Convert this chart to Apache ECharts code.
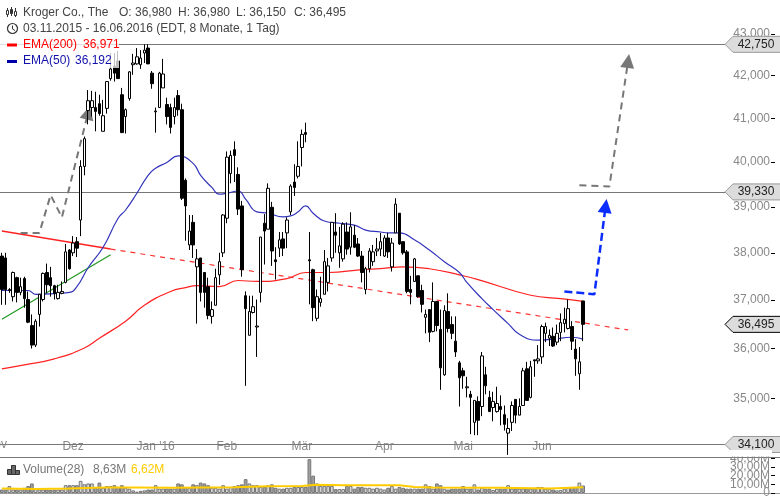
<!DOCTYPE html>
<html>
<head>
<meta charset="utf-8">
<title>Kroger Co., The</title>
<script src="https://cdn.jsdelivr.net/npm/echarts@6/dist/echarts.min.js"></script>
<style>
html, body { margin: 0; padding: 0; background: #fff; }
#chart { width: 780px; height: 499px; }
</style>
</head>
<body>
<div id="chart"></div>
<script>
// trading days per month, Nov 2015 - Jun 2016
const tradingDays = [
    ['11.2015', [3,4,5,6,9,10,11,12,13,16,17,18,19,20,23,24,25,27,30]],
    ['12.2015', [1,2,3,4,7,8,9,10,11,14,15,16,17,18,21,22,23,24,28,29,30,31]],
    ['01.2016', [4,5,6,7,8,11,12,13,14,15,19,20,21,22,25,26,27,28,29]],
    ['02.2016', [1,2,3,4,5,8,9,10,11,12,16,17,18,19,22,23,24,25,26,29]],
    ['03.2016', [1,2,3,4,7,8,9,10,11,14,15,16,17,18,21,22,23,24,28,29,30,31]],
    ['04.2016', [1,4,5,6,7,8,11,12,13,14,15,18,19,20,21,22,25,26,27,28,29]],
    ['05.2016', [2,3,4,5,6,9,10,11,12,13,16,17,18,19,20,23,24,25,26,27,31]],
    ['06.2016', [1,2,3,6,7,8,9,10,13,14,15,16]]
];
const monthTicks = [19, 41, 60, 80, 102, 123, 144];
const monthLabels = ['Dez', "Jan '16", 'Feb', 'Mär', 'Apr', 'Mai', 'Jun'];

const opens = [
    37.93,37.89,37.20,37.07,37.47,37.16,37.45,37.01,36.47,36.07,
    36.70,37.01,37.58,37.47,37.30,37.03,37.14,37.37,38.06,38.00,
    38.24,38.71,39.90,41.18,41.25,41.25,41.34,40.70,41.23,41.93,
    42.23,42.35,41.55,41.04,41.46,42.26,42.28,42.26,42.54,42.66,
    42.06,41.15,41.25,41.71,41.32,41.25,41.04,41.53,41.20,39.59,
    38.17,38.66,37.70,37.89,37.58,37.28,36.66,36.89,37.53,38.00,
    38.75,39.74,40.28,39.72,39.02,37.09,36.27,36.74,36.44,37.16,
    38.64,38.51,38.99,37.85,38.10,38.30,38.43,38.89,39.55,39.68,
    40.33,40.67,37.85,37.64,36.62,36.95,37.12,37.37,37.89,38.45,
    38.00,37.87,38.45,38.12,38.38,38.19,37.93,37.22,37.66,37.81,
    38.04,38.08,37.93,38.32,37.70,38.43,38.86,38.24,38.02,37.22,
    37.39,37.51,37.20,36.64,36.80,36.35,36.97,36.39,35.47,36.76,
    36.49,36.15,35.71,35.55,35.21,35.08,34.53,34.94,34.84,35.47,
    35.02,34.82,34.74,34.84,34.68,34.32,34.53,34.98,34.67,34.86,
    35.59,35.02,35.77,35.75,35.83,36.31,36.21,36.25,36.13,36.33,
    36.51,36.41,36.45,35.99,35.49,36.98
];
const closes = [
    37.22,37.22,37.22,37.58,37.16,37.28,37.03,36.54,36.07,36.56,
    37.12,37.56,37.32,37.30,37.14,37.16,37.18,38.02,37.66,38.21,
    38.10,39.90,40.53,41.41,41.41,41.16,41.11,41.06,41.86,42.16,
    42.06,41.93,40.67,41.20,42.09,42.30,42.45,42.42,42.61,42.28,
    41.81,41.17,42.06,42.04,41.04,40.79,41.25,41.20,39.19,39.02,
    38.47,38.17,37.87,37.16,37.16,36.68,36.80,37.47,37.81,38.82,
    40.11,40.15,40.15,38.95,37.64,36.82,36.76,36.86,36.46,38.34,
    38.47,39.41,38.04,37.81,38.28,38.10,38.71,39.46,39.43,39.90,
    40.63,40.63,37.83,36.84,37.07,37.03,37.81,37.72,38.66,38.38,
    38.15,38.62,38.08,38.56,38.12,37.93,37.58,37.66,38.04,38.02,
    38.08,38.24,38.32,38.02,38.21,39.06,38.19,38.00,37.18,37.16,
    37.87,37.07,36.91,36.70,36.33,36.97,36.47,35.61,36.78,36.41,
    36.31,35.93,35.41,35.45,35.23,35.02,34.96,34.57,35.85,35.25,
    34.74,34.94,34.90,34.78,34.49,34.41,34.86,34.67,34.84,35.55,
    34.96,35.63,35.75,35.79,36.45,36.45,36.27,36.05,36.31,36.53,
    36.60,36.82,36.15,35.79,35.73,36.495
];
const highs = [
    38.00,38.00,37.25,37.60,37.49,37.47,37.49,37.18,36.70,36.60,
    37.12,37.58,37.77,37.70,37.32,37.32,37.39,38.19,38.08,38.36,
    38.34,40.04,40.58,41.66,41.64,41.62,41.55,41.43,41.86,42.54,
    42.54,42.59,41.71,41.23,42.11,42.52,42.66,42.61,42.75,42.75,
    42.11,41.25,42.09,42.40,41.48,41.34,41.48,41.66,41.34,39.63,
    38.82,38.82,38.08,37.89,37.58,37.47,36.97,37.66,38.00,38.84,
    40.24,40.26,40.47,39.88,39.13,37.18,37.09,37.09,37.01,38.34,
    38.84,39.52,39.11,38.12,38.45,38.45,38.77,39.50,39.95,40.47,
    40.74,40.90,38.45,37.66,37.22,37.49,38.06,37.89,38.66,38.86,
    38.56,38.66,38.66,38.88,38.60,38.32,38.04,37.70,38.10,38.17,
    38.32,38.43,38.38,38.43,38.32,39.19,38.86,38.24,38.06,37.51,
    37.89,37.51,37.32,36.80,36.80,37.37,36.97,36.80,36.89,37.14,
    36.66,36.66,35.75,35.61,35.43,35.15,34.96,35.04,35.93,35.63,
    35.15,35.13,35.23,35.06,34.86,34.61,34.94,34.98,35.00,35.61,
    35.73,35.75,35.77,36.07,36.49,36.53,36.39,36.43,36.49,36.72,
    36.84,37.01,36.56,36.19,36.03,36.98
];
const lows = [
    36.90,36.90,37.15,36.97,36.95,37.10,36.84,36.52,36.00,36.03,
    36.45,36.97,37.14,37.07,37.01,37.01,37.12,37.35,37.64,37.93,
    37.91,38.36,39.70,40.86,41.04,40.70,41.06,40.70,41.11,41.88,
    41.86,41.93,40.67,40.65,41.41,42.02,42.26,42.16,42.30,42.28,
    41.69,40.67,41.25,41.71,40.86,40.65,40.86,41.06,39.15,38.26,
    38.06,37.89,36.51,36.97,36.84,36.60,36.51,36.89,37.32,37.91,
    38.64,39.52,39.55,38.82,37.49,35.25,36.27,36.72,35.83,36.95,
    37.75,38.51,37.72,37.43,37.91,37.93,38.10,38.82,39.24,39.63,
    39.90,40.45,36.91,36.56,36.56,36.86,37.12,37.18,37.81,38.00,
    37.68,37.81,37.96,37.96,38.10,37.91,37.37,37.12,37.58,37.72,
    37.93,37.93,37.91,37.89,37.60,38.43,38.17,37.96,37.14,36.91,
    37.39,37.05,36.74,36.31,36.13,36.33,36.35,35.17,35.45,36.33,
    36.19,35.83,34.84,35.19,35.02,34.30,34.28,34.28,34.65,35.08,
    34.74,34.55,34.72,34.47,34.37,33.90,34.36,34.51,34.67,34.86,
    34.96,35.00,35.43,35.69,35.69,36.13,36.05,36.03,36.07,36.15,
    36.33,36.39,35.97,35.45,35.17,36.15
];
const volumes = [
    4,4,8,4,4,4,6,8,11,5,
    4,4,4,3.5,4,4,4,9,9,9,
    9,14,10,11,11,6,12,6,8,8,
    9,7,9,6,5,3,1.5,2.5,3,4,
    4,9,5,5,5,5,5,11,10,6,
    6,10,9,12,11,9,6,6,5,9,
    5,7,8,9,10,16,11,9,9,7,
    7,9,10,6,5,5,6,6,7,7,
    7,7,39,20,11,8,8,8,8,4.5,
    4.5,4.5,8,8,5,7,7,6,6,5,
    6,5,4,6,8,5,7,6,5,5,
    5,5,5,10,8,5,11,9,5,4,
    5,5,5,8,5,5,10,4,6,5,
    5,3.5,5,5,5,9,5,5,5,5,
    5,5,6,7,7,5,5,4,3,3.5,
    5,6,7,7,12,8.63
];

// lines, read as [candle index, value]
const ema50 = [[0,37.20],[7,37.20],[9,37.12],[15,37.14],[18,37.16],[20,37.28],[23,37.68],[27,38.12],[31,38.75],[33,38.93],
    [36,39.30],[39,39.70],[41,39.86],[44,39.99],[47,40.14],[51,39.97],[53,39.70],[56,39.43],[58,39.28],[60,39.30],
    [63,39.35],[65,39.17],[68,38.89],[71,38.86],[75,38.78],[77,38.80],[79,38.89],[81,39.02],[83,38.86],[86,38.69],
    [90,38.64],[94,38.60],[97,38.49],[101,38.45],[103,38.43],[106,38.43],[110,38.28],[114,38.06],[118,37.81],[122,37.58],
    [124,37.37],[128,37.03],[131,36.80],[135,36.51],[138,36.29],[143,36.17],[147,36.19],[152,36.23],[155,36.192]];
const ema200 = [[0,35.59],[6,35.67],[14,35.79],[22,36.01],[26,36.21],[33,36.56],[38,36.89],[45,37.18],[49,37.26],[52,37.30],
    [58,37.28],[63,37.41],[68,37.39],[76,37.45],[81,37.58],[87,37.58],[96,37.64],[101,37.66],[107,37.70],[114,37.66],
    [122,37.53],[127,37.43],[141,37.10],[149,37.03],[155,36.971]];
const volumeAvg = [[0,5.3],[9,4.6],[18,5.3],[27,6.3],[36,6.3],[45,6],[62,6.7],[71,7.8],[80,8],[84,9.5],
    [91,9],[106,8.8],[110,7],[115,6.3],[133,6],[146,5.3],[155,6.62]];

const redTrendSolid = [[0,38.47],[29,38.08]];
const redTrendDashed = [[29,38.08],[167,36.38]];
const greenTrend = [[0,36.60],[29,37.96]];
const grayArrowLeft = [[5,38.43],[10,38.43],[13,39.26],[16,38.77],[23,41.13]];
const grayArrowRight = [[154,39.48],[162,39.45],[167,42.35]];
const blueArrow = [[150,37.18],[158,37.12],[161,39.02]];

const levels = [42.75, 39.33, 34.10];
const lastPrice = 36.495;
const priceTicks = [35, 36, 37, 38, 39, 40, 41, 42, 43];
const volumeTicksEven = [0, 20, 40];
const volumeTicksOdd = [10, 30];

const categories = [];
tradingDays.forEach(function (m) {
    m[1].forEach(function (d) { categories.push(d + '.' + m[0]); });
});
const barCount = 208;
while (categories.length < barCount) categories.push('');

const candleData = opens.map(function (o, i) { return [o, closes[i], lows[i], highs[i]]; });

function price(v) {
    return v.toFixed(3).replace('.', ',');
}

// arrow head sits on the last point of the dashed line
function arrowData(points, rotate, size) {
    return points.map(function (p, i) {
        if (i === points.length - 1) {
            return { value: p, symbol: 'triangle', symbolSize: size, symbolRotate: rotate };
        }
        return { value: p, symbol: 'none' };
    });
}

function plainLine(name, data, color, width, dash) {
    return {
        name: name,
        type: 'line',
        data: data,
        symbol: 'none',
        silent: true,
        z: 3,
        lineStyle: { color: color, width: width, type: dash || 'solid' },
        itemStyle: { color: color }
    };
}

function emaLine(name, data, color) {
    return Object.assign(plainLine(name, data, color, 1.2), { smooth: 0.5 });
}

function renderTag(params, api) {
    const y = api.coord([0, api.value(0)])[1];
    const edge = api.value(1) ? '#000' : '#999';
    return {
        type: 'group',
        children: [
            {
                type: 'polygon',
                shape: { points: [[725, y], [733, y - 8], [781, y - 8], [781, y + 8], [733, y + 8]] },
                style: { fill: '#dcdcdc', stroke: edge, lineWidth: 1 }
            },
            {
                type: 'text',
                style: {
                    x: 756, y: y, text: price(api.value(0)),
                    fill: '#222', font: '12px "Liberation Sans"',
                    align: 'center', verticalAlign: 'middle'
                }
            }
        ]
    };
}

function txt(x, y, text, color) {
    return {
        type: 'text', x: x, y: y, z: 20,
        style: { text: text, fill: color || '#444', font: '12px "Liberation Sans"', verticalAlign: 'middle' }
    };
}
function box(x, y, w, h, fill, stroke) {
    return {
        type: 'rect', z: 20,
        shape: { x: x, y: y, width: w, height: h },
        style: { fill: fill, stroke: stroke || null, lineWidth: 1 }
    };
}
function seg(x1, y1, x2, y2, color) {
    return {
        type: 'line', z: 20,
        shape: { x1: x1, y1: y1, x2: x2, y2: y2 },
        style: { stroke: color || '#333', lineWidth: 1 }
    };
}

// volume scale labels sit closer than their text height, so they go on two axes
function volumeAxis(ticks) {
    return {
        type: 'value', gridIndex: 1, position: 'right', offset: -5,
        min: 0, max: 40,
        axisLine: { show: false },
        splitLine: { show: false },
        axisTick: { show: true, inside: true, length: 4, customValues: ticks, lineStyle: { color: '#000' } },
        axisLabel: {
            inside: true, margin: 5, color: '#888', fontSize: 12,
            hideOverlap: false, showMinLabel: true, showMaxLabel: true,
            customValues: ticks,
            formatter: function (v) { return v ? v.toFixed(2).replace('.', ',') + 'M' : '0'; }
        }
    };
}

const graphics = [
    // veil behind the legend rows
    { type: 'rect', z: 19, shape: { x: 0, y: 36, width: 119, height: 32 }, style: { fill: 'rgba(255,255,255,0.75)' } },
    // top of the first volume label is hidden
    { type: 'rect', z: 19, shape: { x: 727, y: 450, width: 45, height: 6.5 }, style: { fill: '#fff' } },

    // candle icon
    seg(7.5, 8, 7.5, 17), box(6.5, 10.5, 2, 4, '#fff', '#333'),
    seg(11.5, 7, 11.5, 16), box(10.5, 9.5, 2, 4, '#333', '#333'),
    seg(15.5, 8, 15.5, 17), box(14.5, 11.5, 2, 4, '#fff', '#333'),
    // clock icon
    { type: 'circle', z: 20, shape: { cx: 12.5, cy: 28.5, r: 5 }, style: { fill: 'none', stroke: '#333', lineWidth: 1.2 } },
    seg(12.5, 25.5, 12.5, 29), seg(12.5, 29, 15, 30.5),
    // legend dashes
    box(7, 43.5, 10, 3, '#ff0000'),
    box(7, 60, 10, 3, '#0000aa'),

    txt(23, 13, 'Kroger Co., The'),
    txt(119, 13, 'O: 36,980'),
    txt(178, 13, 'H: 36,980'),
    txt(236, 13, 'L: 36,150'),
    txt(294, 13, 'C: 36,495'),
    txt(23, 29, '03.11.2015 - 16.06.2016 (EDT, 8 Monate, 1 Tag)'),
    txt(23, 45, 'EMA(200)', '#ff0000'),
    txt(83, 45, '36,971', '#ff0000'),
    txt(23, 61, 'EMA(50)', '#1111aa'),
    txt(75, 61, '36,192', '#1111aa'),

    // month label cut off at the left edge
    { type: 'text', x: -14.4, y: 445, z: 4, style: { text: 'Nov', fill: '#888', font: '12px "Liberation Sans"', verticalAlign: 'middle' } },

    // volume icon and header
    box(7.5, 469.5, 4, 5, '#666', '#333'),
    box(11.5, 465.5, 4, 9, '#666', '#333'),
    box(15.5, 470.5, 4, 4, '#666', '#333'),
    txt(23, 470, 'Volume(28)', '#777'),
    txt(93, 470, '8,63M', '#777'),
    txt(131, 470, '6,62M', '#ffcc00')
];

const gridLeft = -3.3;
const gridWidth = 785.2;

const option = {
    animation: false,
    textStyle: { fontFamily: '"Liberation Sans"' },
    grid: [
        { left: gridLeft, width: gridWidth, top: 34, height: 423 },
        { left: gridLeft, width: gridWidth, top: 458.3, height: 37.7 }
    ],
    xAxis: [
        {
            type: 'category', gridIndex: 0, data: categories, boundaryGap: true,
            axisLine: { lineStyle: { color: '#777', width: 1 } },
            axisTick: {
                inside: true, length: 4, alignWithLabel: true,
                interval: function (i) { return monthTicks.indexOf(i) >= 0; },
                lineStyle: { color: '#000' }
            },
            axisLabel: {
                inside: true, margin: 4, color: '#888', fontSize: 12,
                hideOverlap: false,
                interval: function (i) { return monthTicks.indexOf(i) >= 0; },
                formatter: function (v, i) { return monthLabels[monthTicks.indexOf(i)]; }
            }
        },
        {
            type: 'category', gridIndex: 1, data: categories, boundaryGap: true,
            axisLine: { lineStyle: { color: '#999', width: 1 } },
            axisTick: {
                length: 2, alignWithLabel: true,
                interval: function (i) { return monthTicks.indexOf(i) >= 0; },
                lineStyle: { color: '#000' }
            },
            axisLabel: { show: false }
        }
    ],
    yAxis: [
        {
            type: 'log', gridIndex: 0, position: 'right', offset: -5,
            min: 33.86, max: 43, scale: true,
            axisLine: { show: false },
            splitLine: { show: false },
            minorTick: { show: false },
            axisTick: { show: true, inside: true, length: 4, customValues: priceTicks, lineStyle: { color: '#000' } },
            axisLabel: {
                inside: true, margin: 5, color: '#888', fontSize: 12,
                hideOverlap: false,
                customValues: priceTicks,
                formatter: function (v) { return price(v); }
            }
        },
        volumeAxis(volumeTicksEven),
        volumeAxis(volumeTicksOdd)
    ],
    series: [
        plainLine('Trend', redTrendSolid, '#ff2222', 1.5),
        plainLine('Trend2', redTrendDashed, '#ff3333', 1.2, [5, 5]),
        plainLine('Support', greenTrend, '#229922', 1.2),
        {
            name: 'Kroger',
            type: 'candlestick',
            data: candleData,
            barWidth: 3,
            z: 4,
            itemStyle: {
                color: '#fff', color0: '#000',
                borderColor: '#000', borderColor0: '#000', borderColorDoji: '#000',
                borderWidth: 1
            },
            markLine: {
                silent: true, symbol: 'none', animation: false, z: 2,
                label: { show: false },
                lineStyle: { color: '#777', width: 1, type: 'solid' },
                data: levels.map(function (v) { return { yAxis: v }; })
            }
        },
        emaLine('EMA(200)', ema200, '#ff2222'),
        emaLine('EMA(50)', ema50, '#3333bb'),
        Object.assign(plainLine('Ziel1', arrowData(grayArrowLeft, -14, 14), '#777', 2, [7, 5]), { showAllSymbol: true, symbol: 'circle' }),
        Object.assign(plainLine('Ziel2', arrowData(grayArrowRight, -8, 14), '#777', 2, [7, 5]), { showAllSymbol: true, symbol: 'circle' }),
        Object.assign(plainLine('Ziel3', arrowData(blueArrow, -8, 14), '#0a2cff', 2.5, [8, 4]), { showAllSymbol: true, symbol: 'circle' }),
        {
            name: 'Tags',
            type: 'custom',
            silent: true,
            z: 10,
            renderItem: renderTag,
            clip: false,
            encode: { y: 0 },
            data: levels.map(function (v) { return [v, 0]; }).concat([[lastPrice, 1]])
        },
        {
            name: 'Volume',
            type: 'bar',
            xAxisIndex: 1, yAxisIndex: 1,
            data: volumes.map(function (v, i) {
                return {
                    value: v,
                    itemStyle: { color: closes[i] >= opens[i] ? '#d4d4d4' : '#a0a0a0' }
                };
            }),
            barWidth: '100%',
            itemStyle: { borderColor: '#777', borderWidth: 1 }
        },
        {
            name: 'VolumeAvg',
            type: 'line',
            xAxisIndex: 1, yAxisIndex: 1,
            data: volumeAvg,
            symbol: 'none',
            silent: true,
            z: 5,
            lineStyle: { color: '#ffcc00', width: 2 }
        }
    ],
    graphic: graphics
};

const chart = echarts.init(document.getElementById('chart'));
chart.setOption(option);
</script>
</body>
</html>
